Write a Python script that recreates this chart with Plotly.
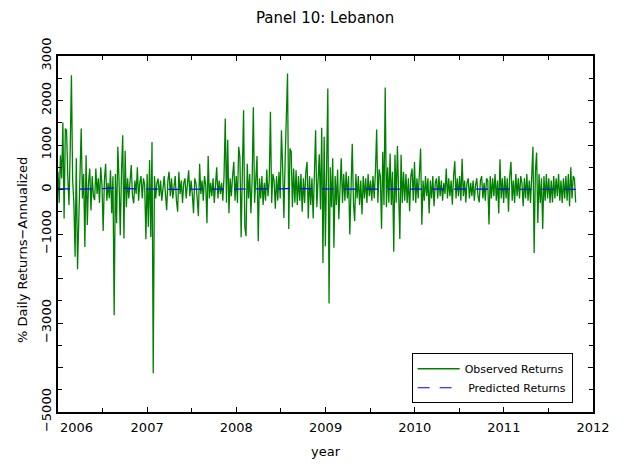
import pandas as pd
import plotly.graph_objects as go

# Observed annualized daily returns (%), sampled every 5 days from 2006-01-01
obs_2006 = [400, -300, 770, 250, 1505, -650, 1370, 1330, 300, -350,
            900, 2570, 200, -300, -1510, 700, -1790, -760, 250, 1370,
            -200, 350, -1290, 770, -800, 150, 470, -470, 300, -150,
            -240, 470, -100, 250, -300, 500, 100, -930, 200, 580,
            -250, 150, -200, 430, -535, 300, -2825, 350, -760, 960,
            200, -1030, 400, 1220, -1100, 870, -400, 250, -200, 300,
            550, -150, -310, 200, -100, 500, -250, 150, 300, -200,
            250, 100, -1115]
obs_2007 = [350, -840, 660, -1065, 1070, -4130, 300, -200, 150, 245,
            -150, 200, -250, 100, 300, -100, -465, 200, 400, -150,
            250, -200, 100, 300, -250, -500, 400, -100, 200, -300,
            150, 250, -200, 100, 430, -150, 200, -100, -535, 250,
            150, -200, -600, 580, -100, 200, -250, 300, 100, -760,
            750, -200, 150, -150, 250, -300, 100, 500, -200, 200,
            -100, 150, -250, 300, 1595, -300, 1120, -535, 250, -150,
            300, 620, -250]
obs_2008 = [300, -300, 960, 730, -1070, 400, 1780, -840, -1050, 580,
            -200, 350, -535, 200, 1850, -300, 400, 750, -1160, 250,
            -200, 300, -350, 150, -250, 450, -150, 200, 1745, -300,
            350, 200, -430, 300, -250, 400, -200, 1330, 500, -640,
            600, 1955, 2605, -890, 920, 850, -400, 470, -300, 430,
            -350, 300, -250, 350, -500, 250, -300, 400, 620, -650,
            300, -350, 250, -650, 400, 1330, -400, 350, 790, -450,
            1385, -1650, 1185]
obs_2009 = [-1275, 400, 2270, -2560, 500, -400, 700, -1310, 300, -350,
            450, -670, 250, 700, -300, 350, -250, 400, -200, 300,
            -1010, 250, 1030, -300, -710, 350, -200, 300, -350, 200,
            -560, 300, -200, 250, -300, 350, -150, 200, -250, 300,
            -200, 400, 1350, -300, 450, 300, -880, 850, -350, 2290,
            -400, 500, -300, 810, -350, 400, -1400, 780, -300, 975,
            -450, -1110, 780, -300, 400, -250, 350, -300, 250, -490,
            300, 470, -250]
obs_2010 = [620, -300, 250, -200, 300, 920, -790, 200, -250, 300,
            -150, 250, -540, 200, -200, 300, -375, 150, 250, -200,
            300, -150, 200, -250, 150, -100, 470, -200, 250, -150,
            200, -340, 300, 635, -200, 250, -150, 300, -250, 690,
            -150, 200, -290, 150, 250, -200, 150, -150, 200, -250,
            100, 250, -150, -290, 200, 300, -200, 150, -250, 250,
            200, -785, 300, -200, 250, -150, 350, -250, 200, -540,
            680, -200, 250]
obs_2011 = [-300, 300, -200, 250, -500, 300, 620, -250, 200, -300,
            350, -150, 250, -200, 300, 150, -375, 250, -200, 350,
            -250, 200, -300, 300, 960, -1425, 400, 830, -750, 350,
            -300, 250, -885, 300, -250, 350, -200, 250, -300, 200,
            -290, 300, -200, 250, -150, 350, -250, 200, -300, 250,
            -200, 300, -250, 350, -375, 500, -200, 300, 250, -290]

# Model-predicted returns (%), evenly spread over the sample
predicted = [15, 20, 15, 10, 10, 15, 20, 30, 35, 25, 15, 10,
             10, 10, 10, 5, 5, 5, 5, 5, 5, 5, 10, 10,
             10, 10, 10, 10, 10, 10, 15, 25, 30, 20, 15, 10,
             15, 15, 10, 10, 10, 10, 10, 10, 10, 10, 10, 10,
             5, 5, 5, 5, 5, 5, 5, 5, 5, 5, 5, 5,
             5, 5, 5, 5, 5, 10, 10, 5, 5, 5]

year_labels = ["2007", "2008", "2009", "2010", "2011", "2012"]
y_tick_values = [3000, 2000, 1000, 0, -1000, -2000, -3000, -4000, -5000]
y_tick_labels = ["3000", "2000", "1000", "0", "\u22121000", "", "\u22123000", "", "\u22125000"]

observed = obs_2006 + obs_2007 + obs_2008 + obs_2009 + obs_2010 + obs_2011
obs_dates = pd.date_range("2006-01-01", periods=len(observed), freq="5D")
pred_dates = pd.date_range(obs_dates[0], obs_dates[-1], periods=len(predicted))

year_ticks = [pd.Timestamp(f"{y}-01-01") for y in year_labels]
half_year_ticks = [pd.Timestamp(f"{y}-07-02") for y in range(2006, 2012)]

FONT = "DejaVu Sans"

fig = go.Figure()
fig.add_trace(go.Scatter(
    x=obs_dates, y=observed, mode="lines", name="Observed Returns",
    line=dict(color="#008000", width=1.3),
))
fig.add_trace(go.Scatter(
    x=pred_dates, y=predicted, mode="lines", name="\u00a0Predicted Returns",
    line=dict(color="#0000ff", width=1.2, dash="12px,10px"),
))

axis_common = dict(
    showline=True, linewidth=2, linecolor="black", mirror="ticks",
    ticks="inside", ticklen=5, tickwidth=1, tickcolor="black",
    showgrid=False, zeroline=False, automargin=False,
    tickfont=dict(family=FONT, size=13, color="black"),
)

fig.update_xaxes(
    type="date", range=["2006-01-01", "2012-01-01"],
    tickvals=year_ticks, ticktext=year_labels, ticklabelstandoff=2,
    minor=dict(tickvals=half_year_ticks, ticks="inside", ticklen=4,
               tickcolor="black", showgrid=False),
    title=dict(text="year", font=dict(family=FONT, size=13, color="black"), standoff=13),
    **axis_common,
)
fig.update_yaxes(
    range=[-5000, 3000],
    tickvals=y_tick_values, ticktext=y_tick_labels, tickangle=-90,
    minor=dict(dtick=500, ticks="inside", ticklen=4, tickcolor="black", showgrid=False),
    **axis_common,
)

# y-axis title, placed by hand beside the tick labels
fig.add_annotation(
    x=0, xref="paper", y=0.5, yref="paper", text="% Daily Returns\u2212Annualized",
    textangle=-90, showarrow=False, xanchor="center", yanchor="middle",
    xshift=-36, yshift=-16,
    font=dict(family=FONT, size=13, color="black"),
)

# first year label sits just right of the left axis
fig.add_annotation(
    x="2006-01-01", xref="x", y=0, yref="paper", text="2006",
    showarrow=False, xanchor="left", yanchor="top", yshift=-6,
    font=dict(family=FONT, size=13, color="black"),
)

fig.update_layout(
    width=630, height=466,
    margin=dict(l=58, r=37, t=56, b=54),
    paper_bgcolor="white", plot_bgcolor="white",
    font=dict(family=FONT, size=13, color="black"),
    title=dict(text="Panel 10: Lebanon", x=0.516, xanchor="center",
               y=0.962, yanchor="middle",
               font=dict(family=FONT, size=15, color="black")),
    legend=dict(x=0.661, y=0.165, xanchor="left", yanchor="top",
                bordercolor="black", borderwidth=1, bgcolor="white",
                font=dict(family=FONT, size=11, color="black"),
                tracegroupgap=0, itemwidth=42),
    showlegend=True,
)

fig.write_html("out.html")
